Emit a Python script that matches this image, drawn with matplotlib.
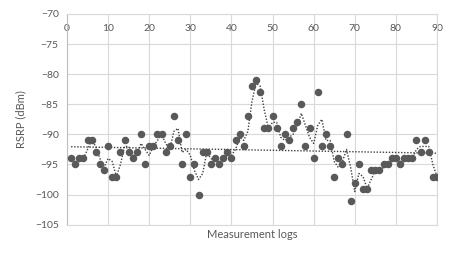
import matplotlib
matplotlib.use("Agg")
import matplotlib.pyplot as plt
import numpy as np

# measurement log index and RSRP readings (dBm)
logs = list(range(1, 91))
rsrp = [
    -94, -95, -94, -94, -91, -91, -93, -95, -96, -92,
    -97, -97, -93, -91, -93, -94, -93, -90, -95, -92,
    -92, -90, -90, -93, -92, -87, -91, -95, -90, -97,
    -95, -100, -93, -93, -95, -94, -95, -94, -93, -94,
    -91, -90, -92, -87, -82, -81, -83, -89, -89, -87,
    -89, -92, -90, -91, -89, -88, -85, -92, -89, -94,
    -83, -92, -90, -92, -97, -94, -95, -90, -101, -98,
    -95, -99, -99, -96, -96, -96, -95, -95, -94, -94,
    -95, -94, -94, -94, -91, -93, -91, -93, -97, -97,
]
x_ticks = list(range(0, 91, 10))
y_ticks = list(range(-105, -69, 5))

plt.rcParams['font.family'] = ['Lato', 'DejaVu Sans']
text_color = "#595959"

x = np.array(logs)
y = np.array(rsrp, dtype=float)

fig = plt.figure(figsize=(4.57, 2.74), dpi=100)
ax = fig.add_axes([0.1466, 0.18, 0.8096, 0.769])

# 2-period moving average
ma = (y[1:] + y[:-1]) / 2
ax.plot(x[1:], ma, linestyle=(0, (1, 1.2)), color="#404040", linewidth=1.0, zorder=3)

# linear trend
coef = np.polyfit(x, y, 1)
ax.plot(x, np.polyval(coef, x), linestyle=(0, (1, 1.2)), color="#404040", linewidth=1.0, zorder=3)

ax.plot(x, y, linestyle="none", marker="o", markersize=4.4, color="#595959", zorder=4)

ax.set_xlim(0, 90)
ax.set_ylim(-105, -70)
ax.set_xticks(x_ticks)
ax.set_yticks(y_ticks)
ax.grid(True, color="#d9d9d9", linewidth=0.8)
ax.set_axisbelow(True)
for side in ["top", "right", "bottom", "left"]:
    ax.spines[side].set_color("#d9d9d9")
    ax.spines[side].set_linewidth(0.8)
ax.spines["left"].set_color("#bfbfbf")

ax.tick_params(axis="x", top=True, labeltop=True, bottom=False, labelbottom=False,
               length=0, pad=-14, labelsize=7.5, labelcolor=text_color)
ax.tick_params(axis="y", length=0, pad=6, labelsize=7.5, labelcolor=text_color)

ax.set_ylabel("RSRP (dBm)", fontsize=8, color=text_color, labelpad=6)
ax.set_xlabel("Measurement logs", fontsize=8, color=text_color, labelpad=3)
ax.xaxis.set_label_position("bottom")

fig.savefig("out.png", dpi=100)
